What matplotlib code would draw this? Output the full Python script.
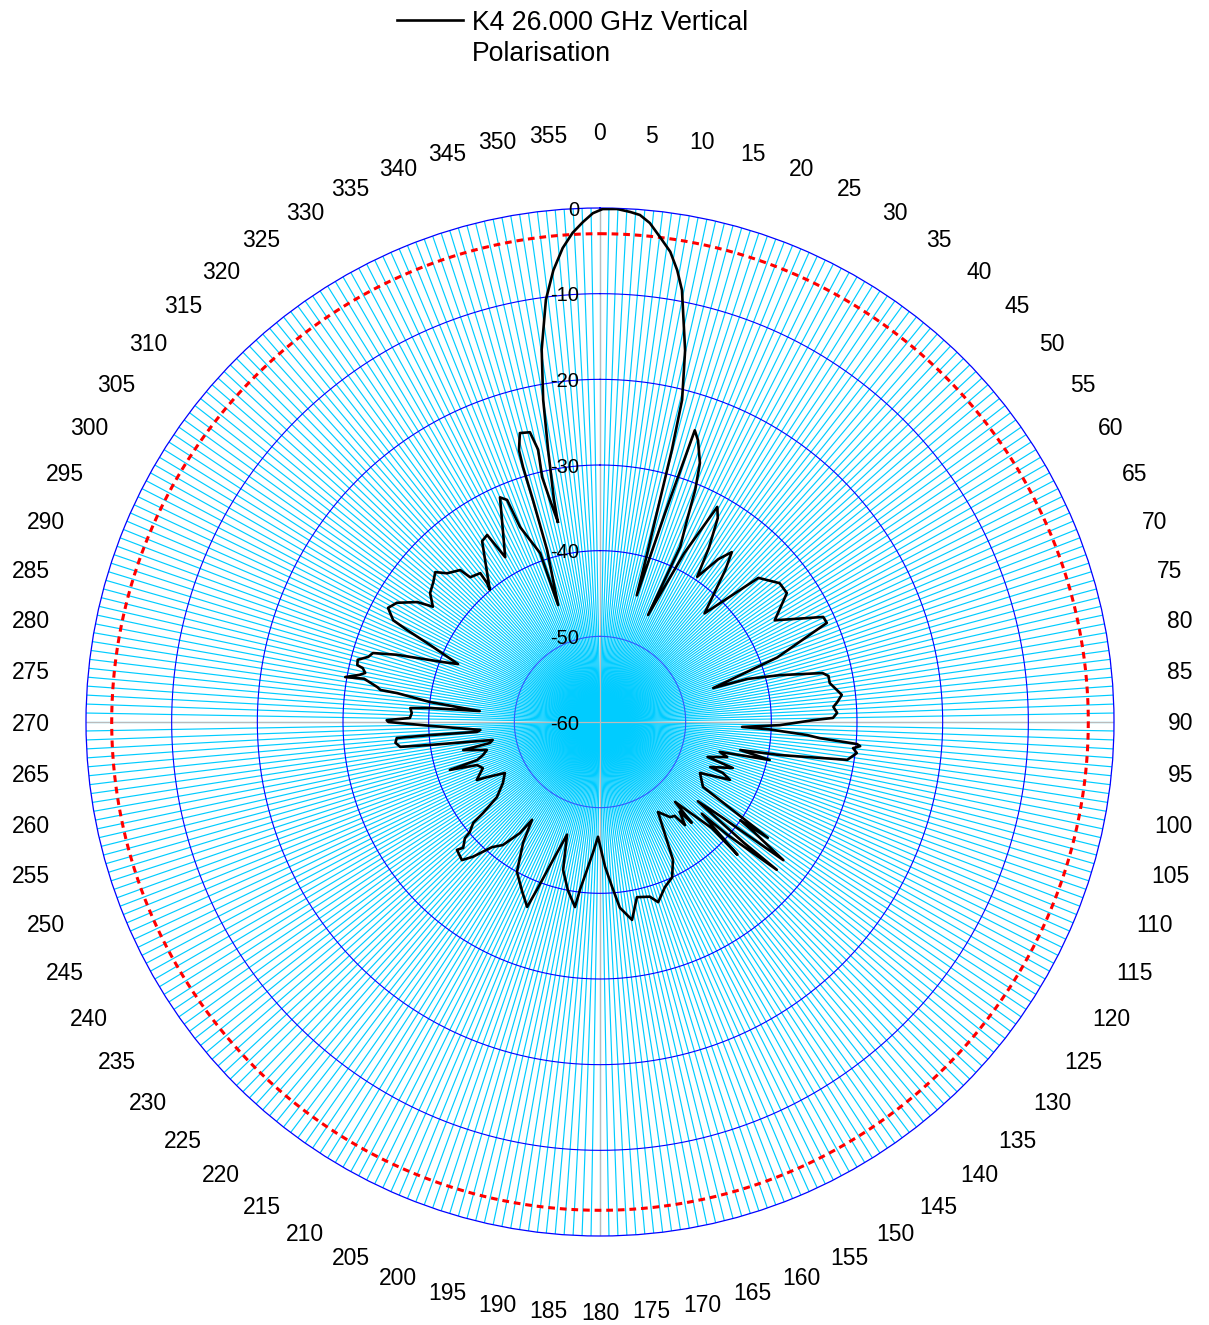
import numpy as np
import matplotlib
matplotlib.use("Agg")
import matplotlib.pyplot as plt
from matplotlib.lines import Line2D

# ---------------- data ----------------
series_label_1 = "K4 26.000 GHz Vertical"
series_label_2 = "Polarisation"

angles_deg = [
    -11.9, -11.7, -10.8, -10.0, -8.9, -7.3, -5.9, -4.5, -3.2, -1.95, -0.8, 0.3, 1.9, 3.4,
    4.5, 5.7, 7.05, 8.5, 9.7, 10.75, 12.9, 14.3, 14.8, 15.1, 15.6, 16.2,
    17.3, 18.0, 19.2, 21.1, 22.3, 23.3, 24.6, 24.2,
    26.5, 28.6, 30.0, 32.0, 33.8,
    36.0, 37.8, 39.5, 43.9,
    47.7, 52.3, 55.4, 59.8, 64.8, 66.4, 70.0, 73.3,
    73.7, 75.4, 77.6, 78.6, 80.4, 82.3, 83.6, 85.2, 86.3, 87.8, 89.0, 89.5, 91.0, 92.0,
    92.5, 93.6, 94.2, 94.9, 95.3, 95.9, 96.9, 98.7, 100.4, 101.3, 102.6, 104.0, 105.4,
    108.0, 109.1, 112.2, 112.5, 114.0, 117.0, 122.2,
    124.6, 125.0, 125.6, 127.0, 128.0, 129.0, 130.0, 129.9, 131.5, 132.0, 134.0, 133.5,
    136.8, 137.7, 138.4, 140.5, 141.5, 143.6, 147.2,
    152.1, 155.1, 158.5, 162.1, 164.1, 168.1, 170.8, 173.9, 175.8, 178.0, 181.0, 183.1,
    185.0, 186.8, 187.7, 190.8, 194.0, 196.3, 198.8, 200.6, 201.5, 204.6, 209.0, 212.5,
    214.8, 215.8, 218.3, 220.8, 223.3, 225.0, 228.2, 227.4, 229.3, 229.8, 231.5, 232.1,
    233.9, 237.8, 241.8, 244.0, 244.8, 248.5, 250.7, 252.3, 252.8, 254.2, 256.1, 258.4,
    259.2, 260.5, 262.3, 262.9, 264.2, 265.5, 265.6, 265.4, 266.2, 268.7, 270.0, 270.5,
    271.2, 272.7, 274.2, 274.7, 275.2, 276.7, 278.1, 278.3, 278.9, 280.4, 280.0, 281.1,
    281.8, 282.8, 283.2, 284.4, 285.7, 286.9, 288.3, 290.9, 292.2, 294.4, 295.5, 296.2,
    298.3, 300.4, 303.3, 304.6, 307.2, 310.0, 312.3, 314.2, 317.4, 318.1, 321.2, 320.9,
    320.2, 326.9, 328.9, 330.1, 336.0, 337.3, 337.7, 340.5, 340.3, 342.9, 343.2, 343.2,
    343.4, 344.5, 346.4, 347.2, 346.7, 347.3, 348.1,
]
gain_db = [
    -36.1, -33.5, -27.7, -21.8, -16.0, -10.3, -7.0, -4.5, -2.8, -1.6, -0.6, -0.12, -0.08, -0.36,
    -0.63, -1.46, -2.96, -4.5, -6.5, -8.7, -15.5, -21.2, -27.2, -33.2, -39.2, -44.6,
    -34.4, -24.2, -25.2, -27.6, -30.7, -34.3, -37.5, -46.3,
    -38.0, -31.4, -32.5, -36.0, -39.6,
    -36.5, -34.9, -37.0, -42.4,
    -35.0, -33.5, -33.5, -36.4, -31.2, -31.1, -38.0, -46.2,
    -42.1, -38.3, -33.4, -32.8, -32.8, -32.1, -31.6, -32.2, -32.7, -32.3, -32.8, -35.1, -39.0, -43.4,
    -40.2, -35.8, -34.3, -29.9, -29.5, -30.3, -29.8, -30.8, -38.6, -43.3, -39.7, -45.6, -44.6,
    -46.8, -43.6, -46.1, -44.5, -43.4, -46.9, -45.8,
    -36.2, -40.0, -37.8, -33.2, -42.0, -45.3, -38.1, -33.1, -40.0, -44.0, -37.7, -42.0,
    -47.2, -44.1, -46.0, -44.4, -46.0, -46.2, -47.5,
    -41.8, -40.0, -39.3, -37.9, -38.8, -39.1, -36.6, -38.2, -40.7, -43.1, -46.6, -44.7,
    -42.7, -40.3, -38.2, -40.0, -42.2, -46.3, -43.0, -39.1, -36.8, -38.2, -40.0, -43.3,
    -46.1, -44.0, -41.7, -40.7, -38.4, -37.2, -37.6, -38.3, -39.2, -40.1, -41.1, -42.7,
    -45.1, -46.6, -47.4, -45.3, -44.1, -45.3, -44.8, -41.6, -45.0, -45.8, -46.4, -43.7,
    -46.9, -47.3, -40.0, -36.5, -36.0, -36.2, -40.1, -45.6, -46.0, -40.2, -35.3, -35.1,
    -37.8, -38.0, -37.8, -40.1, -45.9, -40.0, -36.1, -34.1, -33.7, -32.0, -29.8, -31.4,
    -32.0, -31.6, -30.9, -30.8, -31.9, -32.3, -35.0, -40.4, -42.1, -38.2, -35.0, -33.1,
    -31.9, -32.5, -34.5, -36.3, -35.1, -34.6, -34.0, -35.1, -35.9, -37.3, -37.7, -39.1,
    -39.9, -34.8, -34.5, -37.8, -31.3, -31.9, -35.4, -39.1, -45.5, -39.0, -32.9, -28.9,
    -26.9, -25.0, -25.2, -27.4, -30.6, -33.4, -36.1,
]

r_min, r_max = -60, 0
ring_levels = [-50, -40, -30, -20, -10]
ring_label_values = [0, -10, -20, -30, -40, -50, -60]
half_power_db = -3
tick_angles = list(range(0, 360, 5))
spoke_step_deg = 1

# ---------------- figure ----------------
W, H = 1209, 1325
plt.rcParams["font.family"] = ["Liberation Sans", "DejaVu Sans"]
fig = plt.figure(figsize=(W / 100, H / 100), dpi=100)
fig.patch.set_facecolor("white")

cx, cy, R = 600, 722, 514
ax = fig.add_axes([(cx - R) / W, (H - cy - R) / H, 2 * R / W, 2 * R / H],
                  projection="polar")
ax.set_theta_zero_location("N")
ax.set_theta_direction(-1)
ax.set_ylim(r_min, r_max)
ax.grid(False)
ax.set_xticks([])
ax.set_yticks([])
ax.set_facecolor("white")
ax.spines["polar"].set_color("#0000FF")
ax.spines["polar"].set_linewidth(0.9)

spokes = np.deg2rad(np.arange(0, 360, spoke_step_deg))
ax.vlines(spokes, r_min, r_max, colors="#00CCFF", lw=0.85, zorder=1)
ax.vlines(np.deg2rad([0, 90, 180, 270]), r_min, r_max, colors="#BBBBBB", lw=0.9, zorder=1.1)

full = np.linspace(0, 2 * np.pi, 1441)
for lv in ring_levels:
    col = "#3355FF" if lv == -50 else "#0000FF"
    ax.plot(full, np.full_like(full, lv), color=col, lw=0.8, zorder=2)
ax.plot(full, np.full_like(full, half_power_db), color="#FF0000", lw=2.2,
        ls=(0, (2.2, 1.6)), zorder=2.5)

ax.plot(np.deg2rad(angles_deg), gain_db, color="black", lw=1.9, zorder=5,
        solid_joinstyle="round")

# radial labels
for v in ring_label_values:
    ya = 0.5 + 0.5 * (v - r_min) / (r_max - r_min)
    ax.text((579 - (cx - R)) / (2 * R), ya - 0.002, str(v), transform=ax.transAxes,
            ha="right", va="center", fontsize=14.5, color="black", zorder=10)

# angle labels
lab_r = 590
for a in tick_angles:
    t = np.deg2rad(a)
    s = str(a)
    half = 6.4 * len(s)
    x = cx + lab_r * np.sin(t)
    y = cy - lab_r * np.cos(t) + 2
    x = min(max(x, 12 + half), 1193 - half)
    fig.text(x / W, 1 - y / H, s, ha="center", va="center", fontsize=16.5, color="black")

# legend
fig.add_artist(Line2D([397 / W, 463 / W], [1 - 20 / H, 1 - 20 / H], color="black", lw=1.9))
fig.text(472 / W, 1 - 23 / H, series_label_1, ha="left", va="center", fontsize=19.2)
fig.text(472 / W, 1 - 54 / H, series_label_2, ha="left", va="center", fontsize=19.2)

fig.savefig("out.png", dpi=100)
